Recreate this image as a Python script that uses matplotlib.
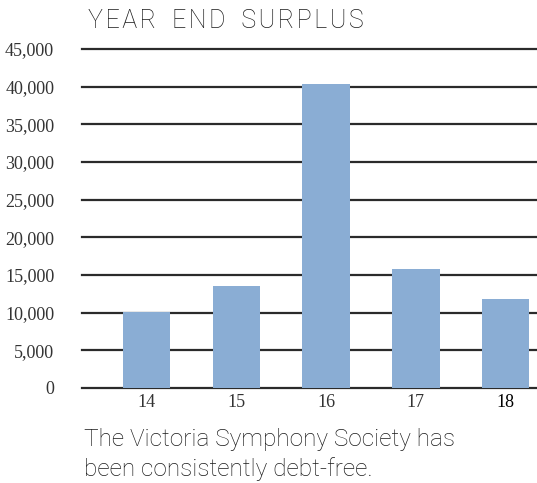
import matplotlib.pyplot as plt

# data
years = ["14", "15", "16", "17", "18"]
surplus = [10100, 13500, 40300, 15800, 11800]
y_ticks = [0, 5000, 10000, 15000, 20000, 25000, 30000, 35000, 40000, 45000]

W, H = 537, 483
fig = plt.figure(figsize=(W / 100, H / 100), dpi=100)
ax = fig.add_axes([82 / W, 95 / H, 1 - 82 / W, 339 / H])

x = range(len(years))
ax.bar(x, surplus, width=0.53, color="#8aadd4", zorder=2)

# horizontal rules behind the bars
for v in y_ticks:
    ax.axhline(v, color="#2b2b2b", lw=1.6, zorder=1, clip_on=False)

ax.set_ylim(0, 45000)
ax.set_xlim(-0.72, 4.35)
ax.set_yticks(y_ticks)
ax.set_yticklabels([f"{v:,}" for v in y_ticks])
ax.set_xticks(list(x))
ax.set_xticklabels(years)
for lab in ax.get_xticklabels() + ax.get_yticklabels():
    lab.set_fontfamily("Liberation Serif")
    lab.set_fontsize(13)
    lab.set_color("#333333")
ax.get_xticklabels()[-1].set_color("black")
ax.tick_params(length=0)
ax.tick_params(axis="y", pad=20)
ax.tick_params(axis="x", pad=4)
for s in ax.spines.values():
    s.set_visible(False)

hair = "\u200a"
title = (" " + hair * 4).join(hair.join(w) for w in ["YEAR", "END", "SURPLUS"])
fig.text(88 / W, 1 - 28 / H, title,
         fontfamily="Roboto", fontweight="light", fontsize=18, color="#1a1a1a")
fig.text(84 / W, 1 - 481 / H, "The Victoria Symphony Society has\nbeen consistently debt-free.",
         fontfamily="Roboto", fontweight="light", fontsize=17.6, color="#1a1a1a",
         linespacing=1.3, va="bottom")

fig.savefig("out.png", dpi=100)
